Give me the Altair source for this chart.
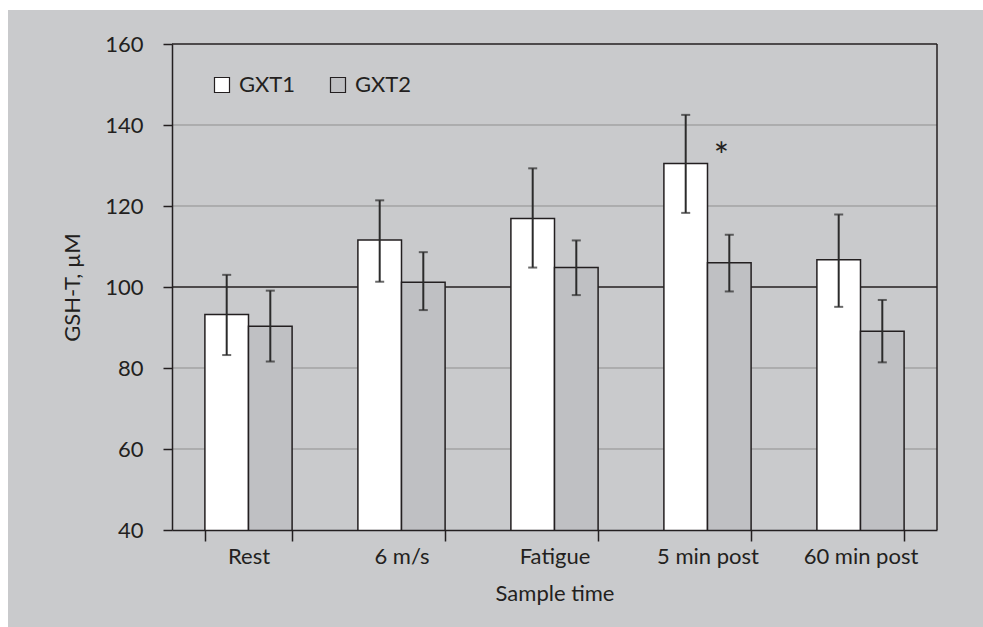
import altair as alt
import pandas as pd

# Total glutathione (GSH-T) at each sampling point for the two graded exercise tests
categories = ["Rest", "6 m/s", "Fatigue", "5 min post", "60 min post"]
series = ["GXT1", "GXT2"]

gxt1_mean = [93.2, 111.6, 116.9, 130.5, 106.7]
gxt1_low = [83.2, 101.3, 104.8, 118.3, 95.1]
gxt1_high = [103.0, 121.4, 129.3, 142.5, 117.9]

gxt2_mean = [90.3, 101.2, 104.8, 106.0, 89.1]
gxt2_low = [81.6, 94.3, 98.0, 98.9, 81.4]
gxt2_high = [99.1, 108.6, 111.5, 112.9, 96.8]

y_ticks = [40, 60, 80, 100, 120, 140, 160]
grid_values = [60, 80, 120, 140]
reference_values = [100]

# significance marker: drawn over the GXT2 bar of this sampling point
marker_category = "5 min post"
marker_series = "GXT2"
marker_text = "*"

INK = "#231f20"
PANEL = "#c9cacc"
GXT2_FILL = "#bfc0c3"
FONT = "Lato"
W, H = 765, 486

rows = []
for i, cat in enumerate(categories):
    rows.append({"time": cat, "series": "GXT1", "mean": gxt1_mean[i],
                 "low": gxt1_low[i], "high": gxt1_high[i]})
    rows.append({"time": cat, "series": "GXT2", "mean": gxt2_mean[i],
                 "low": gxt2_low[i], "high": gxt2_high[i]})
df = pd.DataFrame(rows)

marker_df = pd.DataFrame([{
    "time": marker_category,
    "series": marker_series,
    "level": gxt1_mean[categories.index(marker_category)],
    "label": marker_text,
}])
grid_df = pd.DataFrame({"v": grid_values})
ref_df = pd.DataFrame({"v": reference_values})
one = pd.DataFrame({"p": [0]})

x_enc = alt.X(
    "time:N",
    sort=categories,
    scale=alt.Scale(paddingInner=0.43, paddingOuter=0.215),
    axis=alt.Axis(
        title="Sample time",
        labelAngle=0,
        tickBand="extent",
        tickSize=11,
        labelPadding=5,
        titlePadding=16,
        grid=False,
        zindex=1,
    ),
)
xoff_enc = alt.XOffset("series:N", sort=series,
                       scale=alt.Scale(paddingInner=0, paddingOuter=0))
y_scale = alt.Scale(domain=[40, 160], nice=False, zero=False)
y_axis = alt.Axis(
    title="GSH-T, µM",
    values=y_ticks,
    tickSize=9,
    labelPadding=20,
    titleX=-93,
    titleBaseline="alphabetic",
    grid=False,
    zindex=1,
)

# grey panel behind the whole figure, leaving a thin white margin top/left
panel = alt.Chart(one).mark_rect(fill=PANEL).encode(
    x=alt.value(-164), x2=alt.value(W + 46), y=alt.value(-34), y2=alt.value(H + 97)
)
# plot frame: top and right edges
frame_top = alt.Chart(one).mark_rule(color=INK, strokeWidth=1.5).encode(
    x=alt.value(0), x2=alt.value(W), y=alt.value(0)
)
frame_right = alt.Chart(one).mark_rule(color=INK, strokeWidth=1.5).encode(
    x=alt.value(W), y=alt.value(0), y2=alt.value(H)
)

grid = alt.Chart(grid_df).mark_rule(color="#8f8f8f", strokeWidth=1).encode(
    y=alt.Y("v:Q", scale=y_scale, axis=y_axis)
)
ref = alt.Chart(ref_df).mark_rule(color=INK, strokeWidth=1.5).encode(
    y=alt.Y("v:Q", scale=y_scale)
)

bars = alt.Chart(df).mark_bar(stroke=INK, strokeWidth=1.5, clip=True).encode(
    x=x_enc,
    xOffset=xoff_enc,
    y=alt.Y("mean:Q", scale=y_scale, axis=y_axis),
    color=alt.Color(
        "series:N",
        sort=series,
        scale=alt.Scale(domain=series, range=["#ffffff", GXT2_FILL]),
        legend=alt.Legend(
            title=None,
            orient="none",
            legendX=39,
            legendY=30,
            direction="horizontal",
            symbolType="square",
            symbolSize=225,
            symbolStrokeColor=INK,
            symbolStrokeWidth=1.2,
            symbolOpacity=1,
            labelFontSize=22,
            labelOffset=6,
            columnPadding=31,
        ),
    ),
)

err = alt.Chart(df).mark_rule(color="#2b2b2b", strokeWidth=2).encode(
    x=x_enc, xOffset=xoff_enc,
    y=alt.Y("low:Q", scale=y_scale), y2="high:Q",
)

caps = alt.Chart(df).transform_fold(["low", "high"], as_=["end", "v"]).mark_tick(
    color="#2b2b2b", thickness=2, size=9
).encode(
    x=x_enc, xOffset=xoff_enc, y=alt.Y("v:Q", scale=y_scale)
)

marker = alt.Chart(marker_df).mark_text(
    fontSize=36, color=INK, dx=-8, dy=-5, baseline="middle"
).encode(
    x=x_enc, xOffset=xoff_enc, y=alt.Y("level:Q", scale=y_scale), text="label:N"
)

chart = alt.layer(
    panel, grid, ref, bars, err, caps, marker, frame_top, frame_right
).properties(
    width=W,
    height=H,
    background="#ffffff",
    padding={"left": 172, "top": 44, "right": 46, "bottom": 97},
    autosize=alt.AutoSizeParams(type="none"),
).configure(font=FONT).configure_view(
    stroke=None
).configure_axis(
    domainColor=INK, domainWidth=1.5, tickColor=INK, tickWidth=1.5,
    labelFontSize=22, labelColor=INK, labelFont=FONT,
    titleFontSize=22, titleFontWeight="normal", titleColor=INK, titleFont=FONT,
).configure_legend(labelColor=INK, labelFont=FONT)

chart.save("out.html", embed_options={"renderer": "svg", "actions": False})
